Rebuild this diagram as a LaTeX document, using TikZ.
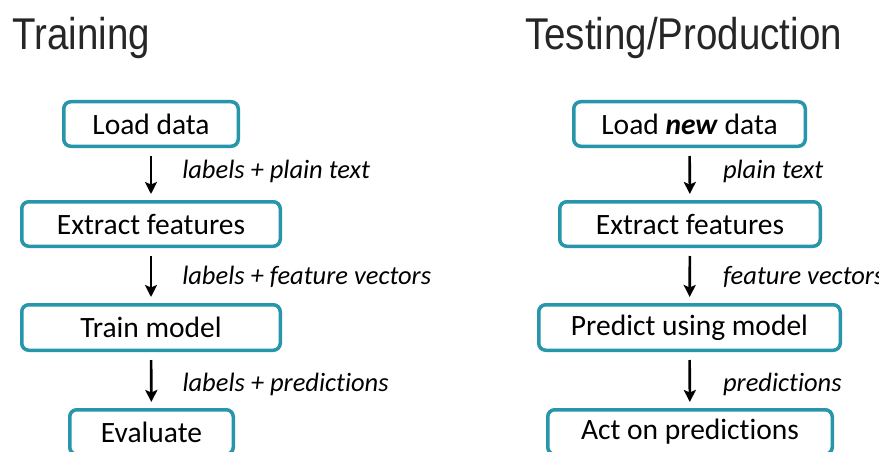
\documentclass[tikz,border=0pt]{standalone}
\usepackage{fontspec}
\setmainfont{Carlito}[Ligatures=NoCommon]
\newfontfamily\titlefont[FakeStretch=0.865]{Liberation Sans}
\usetikzlibrary{arrows.meta}
\definecolor{boxteal}{RGB}{40,150,170}
\tikzset{
  stepbox/.style={draw=boxteal, line width=3.5pt, rounded corners=7pt,
    minimum height=44.5pt, inner sep=0pt, fill=white,
    font=\fontsize{29.5}{33}\selectfont, text=black},
  flow/.style={line width=2.6pt, black,
    -{Stealth[length=12pt,width=12pt,inset=2.5pt]},
    shorten <=8pt, shorten >=6pt},
  lab/.style={anchor=west, inner sep=0pt, font=\fontsize{26.5}{30}\selectfont\itshape, text=black},
  heading/.style={anchor=base west, inner sep=0pt, font=\titlefont\fontsize{44.5}{50}\selectfont, text=black!85}
}
\begin{document}
\begin{tikzpicture}[x=1pt,y=-1pt]
  \useasboundingbox (0,0) rectangle (879,452);
  \clip (0,0) rectangle (879,452);
  \fill[white] (0,0) rectangle (879,452);

  % column headings
  \node[heading] (htrain) at (12,50) {Training};
  \node[heading] (htest) at (525,50) {Testing/Production};

  % training pipeline
  \node[stepbox, minimum width=174.5pt] (ld) at (151,124) {Load data};
  \node[stepbox, minimum width=258.5pt] (ef) at (151,224) {Extract features};
  \node[stepbox, minimum width=258.5pt, minimum height=45.5pt] (tm) at (151,327.5) {Train model};
  \node[stepbox, minimum width=163.5pt] (ev) at (151.5,432) {Evaluate};

  \draw[flow] (ld) -- node[lab, xshift=30pt, yshift=3pt] {labels + plain text} (ef);
  \draw[flow] (ef) -- node[lab, xshift=30pt, yshift=-1pt] {labels + feature vectors} (tm);
  \draw[flow] (tm) -- node[lab, xshift=30pt, yshift=-4pt] {labels + predictions} (ev);

  % testing / production pipeline
  \node[stepbox, minimum width=231.5pt] (rld) at (689.5,124) {Load \textbf{\textit{new}} data};
  \node[stepbox, minimum width=260.5pt] (ref) at (690,224) {Extract features};
  \node[stepbox, minimum width=301.5pt, minimum height=45.5pt] (rpm) at (689.5,327.5) {Predict using model};
  \node[stepbox, minimum width=284.5pt] (rap) at (690,432) {Act on predictions};

  \draw[flow] (rld) -- node[lab, xshift=32pt, yshift=3pt] {plain text} (ref);
  \draw[flow] (ref) -- node[lab, xshift=32pt, yshift=-1pt] {feature vectors} (rpm);
  \draw[flow] (rpm) -- node[lab, xshift=32pt, yshift=-4pt] {predictions} (rap);
\end{tikzpicture}
\end{document}
